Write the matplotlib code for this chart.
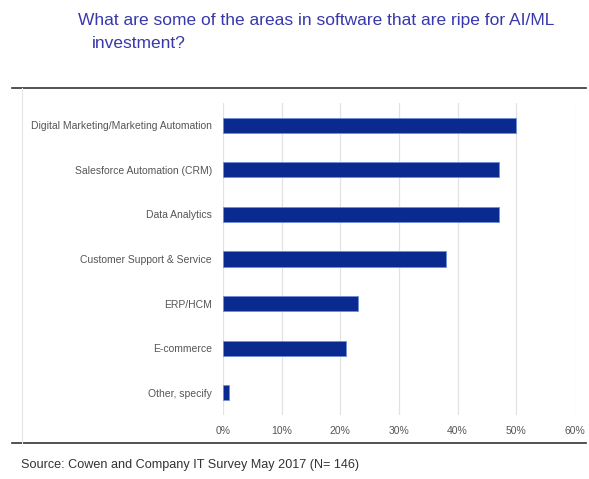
import matplotlib
matplotlib.use('agg')
import matplotlib.pyplot as plt
from matplotlib.lines import Line2D

categories = [
    'Digital Marketing/Marketing Automation',
    'Salesforce Automation (CRM)',
    'Data Analytics',
    'Customer Support & Service',
    'ERP/HCM',
    'E-commerce',
    'Other, specify',
]
values = [50, 47, 47, 38, 23, 21, 1]
xticks = [0, 10, 20, 30, 40, 50, 60]
xtick_labels = ['0%', '10%', '20%', '30%', '40%', '50%', '60%']

plt.rcParams['font.family'] = ['Liberation Sans', 'DejaVu Sans']

fig = plt.figure(figsize=(5.89, 4.79), dpi=100)
ax = fig.add_axes([0.3786, 0.1336, 0.5975, 0.6514])

ax.barh(range(len(categories)), values, height=0.34, color='#0b2a8f',
        edgecolor='#6f8fd8', linewidth=0.6, zorder=3)
ax.set_ylim(6.5, -0.5)
ax.set_xlim(0, 60)
ax.set_xticks(xticks)
ax.set_xticklabels(xtick_labels)
ax.set_yticks(range(len(categories)))
ax.set_yticklabels(categories)
ax.tick_params(axis='both', length=0, colors='#555555', labelsize=7.5)
ax.tick_params(axis='x', pad=8)
ax.tick_params(axis='y', pad=8)
ax.xaxis.grid(True, color='#e2e2e2', linewidth=0.9, zorder=0)
for s in ax.spines.values():
    s.set_visible(False)

# frame lines around the plot area
fig.add_artist(Line2D([0.02, 0.995], [1 - 88 / 479] * 2, color='#333333', lw=1.2))
fig.add_artist(Line2D([0.02, 0.995], [1 - 443 / 479] * 2, color='#333333', lw=1.2))
fig.add_artist(Line2D([22 / 589] * 2, [1 - 443 / 479, 1 - 88 / 479], color='#e6e6e6', lw=0.8))

fig.text(78 / 589, 1 - 20 / 479, 'What are some of the areas in software that are ripe for AI/ML',
         color='#3838ac', fontsize=12.5, va='center', ha='left')
fig.text(92 / 589, 1 - 43 / 479, 'investment?',
         color='#3838ac', fontsize=12.5, va='center', ha='left')
fig.text(21 / 589, 1 - 465 / 479, 'Source: Cowen and Company IT Survey May 2017 (N= 146)',
         color='#333333', fontsize=9.1, va='center', ha='left')

fig.savefig('out.png', dpi=100)
